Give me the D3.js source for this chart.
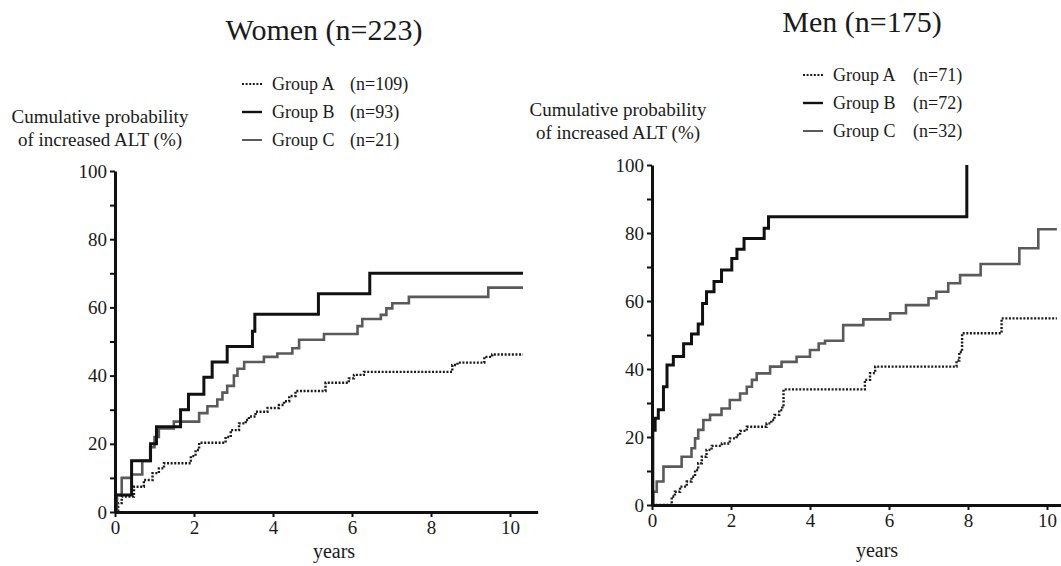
<!DOCTYPE html>
<html>
<head>
<meta charset="utf-8">
<script src="https://cdn.jsdelivr.net/npm/d3@7"></script>
<style>
  body { margin: 0; background: #fff; }
  svg text { font-family: "Liberation Serif", "DejaVu Serif", serif; fill: #1a1a1a; }
</style>
</head>
<body>
<svg id="chart" width="1061" height="566"></svg>
<script>
// --- data (years, cumulative %) ---
const groups = ["Group A", "Group B", "Group C"];
const womenN = [109, 93, 21];
const menN = [71, 72, 32];
const xTicks = [0, 2, 4, 6, 8, 10];
const yTicks = [0, 10, 20, 30, 40, 50, 60, 70, 80, 90, 100];

const womenA = [[0,0],[0.08,2.6],[0.17,4.5],[0.48,7.4],[0.73,9.4],[0.95,11.4],[1.11,12.8],[1.24,14.3],
  [1.92,16.4],[2.04,18.2],[2.13,20.3],[2.8,22],[2.93,24],[3.14,26],[3.31,27],[3.39,28],[3.56,29.4],
  [3.86,30.5],[4.15,31.4],[4.28,32.5],[4.41,34],[4.57,35.5],[5.33,37.9],[5.92,39.2],[6.05,40.2],
  [6.3,41.1],[8.54,43.1],[8.67,43.8],[9.35,45.5],[9.55,46.2],[10.33,46.2]];
const womenB = [[0,0],[0.02,5],[0.42,15],[0.9,20],[1.05,25],[1.66,30],[1.86,34.5],[2.25,39.5],
  [2.46,44],[2.84,48.5],[3.48,53],[3.54,58],[5.15,64],[6.45,70],[10.33,70]];
const womenC = [[0,0],[0.05,5],[0.17,10],[0.42,11],[0.69,15],[0.89,19],[1.0,22],[1.11,24.5],
  [1.49,26.5],[2.13,29],[2.34,31],[2.59,33],[2.72,35],[2.84,37],[3.01,40],[3.1,42],[3.27,44],
  [3.77,45.5],[4.11,46.5],[4.49,48],[4.66,50.5],[5.29,52.2],[6.14,54.5],[6.26,56.6],[6.73,57.8],
  [6.87,59.7],[7.02,61.2],[7.44,63.1],[9.45,65.8],[10.33,65.8]];

const menA = [[0,0],[0.35,0],[0.5,2.5],[0.58,3.9],[0.71,5.4],[0.88,6.9],[1.0,8.3],[1.09,10.3],
  [1.17,12.3],[1.26,14.2],[1.38,16.2],[1.51,17.4],[1.77,18.1],[1.97,19.6],[2.14,20.6],[2.23,21.8],
  [2.4,23],[2.9,24],[3.02,25],[3.1,26.5],[3.22,27.9],[3.3,29],[3.33,34],[5.39,36.8],[5.52,38.8],
  [5.65,40.7],[7.71,42.5],[7.78,45],[7.85,50.5],[8.85,54.9],[10.25,54.9]];
const menB = [[0,0],[0.02,22],[0.08,25.5],[0.16,28],[0.29,34.8],[0.38,41.2],[0.54,43.7],[0.8,47.4],
  [1.0,50.3],[1.17,53.2],[1.28,59.3],[1.38,62.7],[1.57,65.7],[1.76,69.1],[2.02,72.5],[2.15,75.2],
  [2.33,78.4],[2.84,81.4],[2.95,84.8],[7.97,84.8],[7.97,100]];
const menC = [[0,0],[0.03,3.9],[0.12,6.9],[0.29,11.3],[0.75,14.2],[1.0,16.7],[1.09,19.6],[1.17,22.1],
  [1.3,25],[1.47,26.5],[1.76,28.4],[1.97,30.9],[2.23,32.8],[2.4,34.8],[2.53,36.8],[2.65,38.7],
  [2.99,40.7],[3.28,42.1],[3.66,43.6],[4.0,45.6],[4.22,47.5],[4.38,48.3],[4.84,52.9],[5.35,54.6],
  [6.03,56.4],[6.43,58.8],[7.0,60.8],[7.2,62.7],[7.5,65.2],[7.8,67.6],[8.32,70.9],[9.3,75.5],
  [9.78,81.1],[10.25,81.1]];

// line looks per group: A dotted, B thick black, C grey
const styles = [
  { stroke: "#1a1a1a", width: 2.4, dash: "2,1.6" },
  { stroke: "#111", width: 3, dash: null },
  { stroke: "#5a5a5a", width: 2.6, dash: null }
];
const serif = '"Liberation Serif", "DejaVu Serif", serif';

const svg = d3.select("#chart");
svg.append("rect").attr("width", 1061).attr("height", 566).attr("fill", "#fff");

function drawPanel(p) {
  const g = svg.append("g");

  const x = d3.scaleLinear().domain([0, p.xMax]).range([p.left, p.left + p.xMax * p.pxPerYear]);
  const y = d3.scaleLinear().domain([0, 100]).range([p.bottom, p.top]);

  // title
  g.append("text")
    .attr("x", p.titleX).attr("y", p.titleY)
    .attr("text-anchor", "middle")
    .style("font-family", serif)
    .style("font-size", "30px")
    .text(p.title);

  // y label (two lines)
  const yl = g.append("text")
    .attr("text-anchor", "middle")
    .style("font-family", serif)
    .style("font-size", "19px");
  yl.append("tspan").attr("x", p.ylabX).attr("y", p.ylabY).text("Cumulative probability");
  yl.append("tspan").attr("x", p.ylabX).attr("y", p.ylabY + 23).text("of increased ALT (%)");

  // legend
  const leg = g.selectAll(".leg").data(groups).enter().append("g")
    .attr("class", "leg")
    .attr("transform", (d, i) => `translate(${p.legX},${p.legY + i * p.legStep})`);
  leg.append("line")
    .attr("x1", 0).attr("x2", 20).attr("y1", -6).attr("y2", -6)
    .attr("stroke", (d, i) => styles[i].stroke)
    .attr("stroke-width", (d, i) => styles[i].width - 0.6)
    .attr("stroke-dasharray", (d, i) => styles[i].dash);
  leg.append("text").attr("x", 30)
    .style("font-family", serif).style("font-size", "18px")
    .text(d => d);
  leg.append("text").attr("x", p.legNX)
    .style("font-family", serif).style("font-size", "18px")
    .text((d, i) => `(n=${p.n[i]})`);

  // curves
  const line = d3.line()
    .curve(d3.curveStepAfter)
    .x(d => x(d[0]))
    .y(d => y(d[1]));

  [0, 2, 1].forEach(i => {
    g.append("path")
      .datum(p.series[i])
      .attr("fill", "none")
      .attr("stroke", styles[i].stroke)
      .attr("stroke-width", styles[i].width)
      .attr("stroke-dasharray", styles[i].dash)
      .attr("d", line);
  });

  // axes
  const xAxis = g.append("g")
    .attr("transform", `translate(0,${p.bottom})`)
    .call(d3.axisBottom(x).tickValues(xTicks).tickSize(5).tickSizeOuter(0).tickPadding(4));
  const yAxis = g.append("g")
    .attr("transform", `translate(${p.left},0)`)
    .call(d3.axisLeft(y).tickValues(yTicks).tickSize(5).tickSizeOuter(0).tickPadding(3)
      .tickFormat(d => d % 20 === 0 ? d : ""));

  [xAxis, yAxis].forEach(a => {
    a.attr("font-family", null);
    a.select(".domain").attr("stroke", "#111").attr("stroke-width", 3);
    a.selectAll(".tick line").attr("stroke", "#111").attr("stroke-width", 2);
    a.selectAll(".tick text")
      .style("font-family", serif)
      .style("font-size", "19px")
      .attr("fill", "#1a1a1a");
  });

  g.append("text")
    .attr("x", p.yearsX).attr("y", p.yearsY)
    .attr("text-anchor", "middle")
    .style("font-family", serif)
    .style("font-size", "20px")
    .text("years");
}

drawPanel({
  title: "Women (n=223)", titleX: 324, titleY: 40,
  n: womenN, series: [womenA, womenB, womenC],
  left: 115, bottom: 512, top: 171, pxPerYear: 39.5, xMax: 10.7,
  ylabX: 100, ylabY: 123,
  legX: 242, legY: 90, legStep: 28, legNX: 108,
  yearsX: 334, yearsY: 558
});

drawPanel({
  title: "Men (n=175)", titleX: 862, titleY: 32,
  n: menN, series: [menA, menB, menC],
  left: 652, bottom: 505, top: 165, pxPerYear: 39.5, xMax: 10.4,
  ylabX: 618, ylabY: 116,
  legX: 803, legY: 81, legStep: 28, legNX: 110,
  yearsX: 877, yearsY: 557
});
</script>
</body>
</html>
